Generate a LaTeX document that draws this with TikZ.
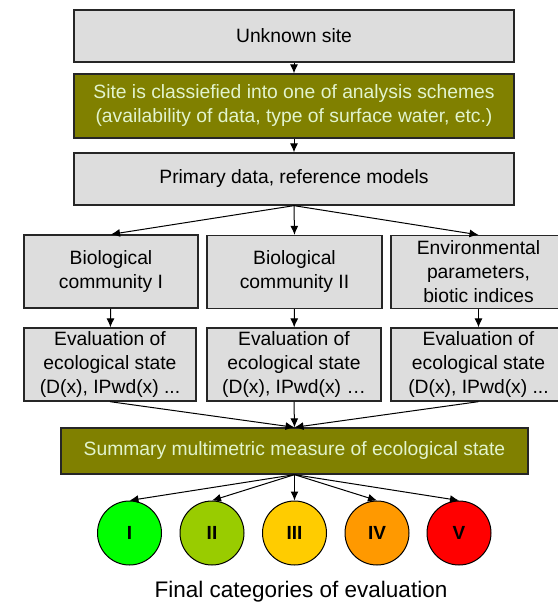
\documentclass[tikz,border=0pt]{standalone}
\usepackage{fontspec}
\setmainfont{Liberation Sans}
\usepackage{tikz}
\usetikzlibrary{shapes, arrows.meta, positioning}

\definecolor{boxgray}{RGB}{221,221,221}
\definecolor{olive}{RGB}{128,128,0}
\definecolor{palegreen}{RGB}{226,244,206}
\definecolor{catone}{RGB}{0,255,0}
\definecolor{cattwo}{RGB}{153,204,0}
\definecolor{catthree}{RGB}{255,204,0}
\definecolor{catfour}{RGB}{255,153,0}
\definecolor{catfive}{RGB}{255,0,0}

\begin{document}
\begin{tikzpicture}
  [
    x=1pt, y=-1pt,
    font=\fontsize{19.3}{24}\selectfont,
    Box/.style={rectangle, draw=black!85, fill=boxgray, line width=1.3pt, align=center, inner sep=0pt},
    Olive/.style={rectangle, draw=black!85, fill=olive, text=palegreen, line width=1.3pt, align=center, inner sep=0pt},
    Cat/.style={circle, draw=black, line width=1pt, minimum size=64pt, inner sep=0pt, font=\fontsize{19}{20}\selectfont\bfseries},
    Arrow/.style={-{Latex[length=9pt, width=8pt]}, draw, line width=1pt}
  ]
  \useasboundingbox (0,0) rectangle (557,605);

  % Nodes
  \node[Box, minimum width=440pt, minimum height=52pt] (unknown) at (294, 36) {Unknown site};

  \node[Olive, minimum width=440pt, minimum height=64pt] (classify) at (294, 106)
    {Site is classiefied into one of analysis schemes\\(availability of data, type of surface water, etc.)};

  \node[Box, minimum width=440pt, minimum height=52pt] (primary) at (294, 179) {Primary data, reference models};

  \node[Box, minimum width=174pt, minimum height=73pt] (bio1) at (111, 271.5) {Biological\\community I};

  \node[Box, minimum width=175pt, minimum height=73pt] (bio2) at (294.5, 272) {Biological\\community II};

  \node[Box, minimum width=175pt, minimum height=73pt] (env) at (478.5, 272) {Environmental\\parameters,\\biotic indices};

  \node[Box, minimum width=172pt, minimum height=73pt] (eval1) at (110, 364.5)
    {Evaluation of\\ecological state\\(D(x), IPwd(x) ...};

  \node[Box, minimum width=174pt, minimum height=73pt] (eval2) at (294, 364.5)
    {Evaluation of\\ecological state\\(D(x), IPwd(x) \ldots};

  \node[Box, minimum width=175pt, minimum height=73pt] (eval3) at (478.5, 364.5)
    {Evaluation of\\ecological state\\(D(x), IPwd(x) ...};

  \node[Olive, minimum width=467pt, minimum height=46pt] (summary) at (294.5, 451)
    {Summary multimetric measure of ecological state};

  \node[Cat, fill=catone] (c1) at (129.5, 533) {I};

  \node[Cat, fill=cattwo] (c2) at (212, 533) {II};

  \node[Cat, fill=catthree] (c3) at (294.5, 533) {III};

  \node[Cat, fill=catfour] (c4) at (377, 533) {IV};

  \node[Cat, fill=catfive] (c5) at (459, 533) {V};

  \node[font=\fontsize{22.5}{24}\selectfont] (final) at (301, 592) {Final categories of evaluation};

  % Lines
  \path [Arrow] (unknown) -- (classify);
  \path [Arrow] (classify) -- (primary);
  \path [Arrow] (primary.south) -- (bio1.north);
  \path [Arrow] (primary.south) -- (bio2.north);
  \path [Arrow] (primary.south) -- (env.north);
  \path [Arrow] (bio1) -- (eval1);
  \path [Arrow] (bio2) -- (eval2);
  \path [Arrow] (env) -- (eval3);
  \path [Arrow] (eval1.south) -- (summary.north);
  \path [Arrow] (eval2.south) -- (summary.north);
  \path [Arrow] (eval3.south) -- (summary.north);
  \path [Arrow] (summary.south) -- (c1.north);
  \path [Arrow] (summary.south) -- (c2.north);
  \path [Arrow] (summary.south) -- (c3.north);
  \path [Arrow] (summary.south) -- (c4.north);
  \path [Arrow] (summary.south) -- (c5.north);

\end{tikzpicture}
\end{document}
